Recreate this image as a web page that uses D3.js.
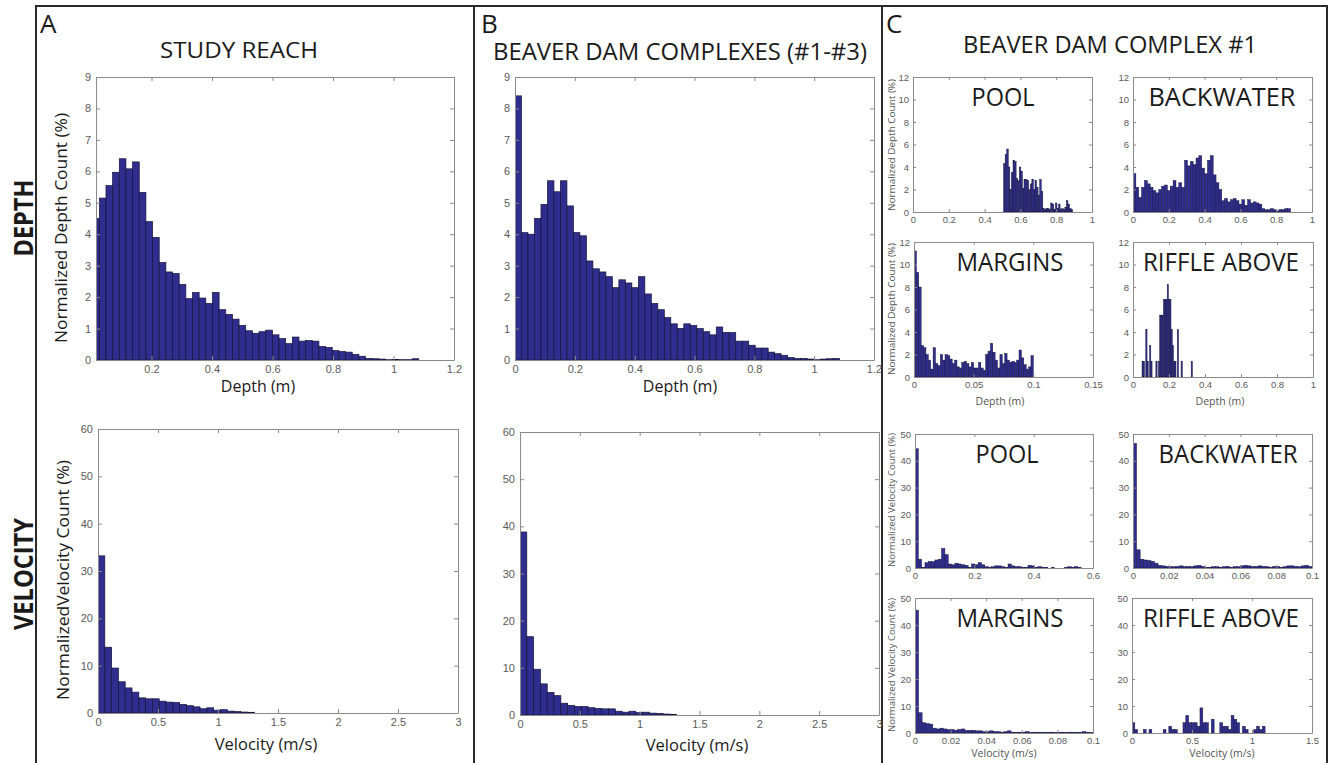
<!DOCTYPE html>
<html>
<head>
<meta charset="utf-8">
<script src="https://cdn.jsdelivr.net/npm/d3@7"></script>
<style>
  body { margin: 0; background: #fff; }
  svg { display: block; }
</style>
</head>
<body>
<svg id="fig" width="1330" height="763"></svg>
<script>
// ---- data: normalized counts (%) per histogram bin ----
// A: study reach
const depthReach = [4.5, 5.15, 5.55, 5.97, 6.4, 6.08, 6.3, 5.33, 4.4, 3.9, 3.1, 2.8, 2.75, 2.4, 1.95, 2.15, 1.97, 1.8, 2.15, 1.6,
  1.45, 1.3, 1.1, 0.93, 0.85, 0.9, 0.95, 0.8, 0.68, 0.52, 0.73, 0.6, 0.62, 0.6, 0.43, 0.4, 0.3, 0.27, 0.25, 0.18,
  0.12, 0.05, 0.04, 0.03, 0.01, 0.02, 0.01, 0.01, 0.04]
const depthReachBin = [0.0055, 0.022]   // first edge, bin width (m)
const velReach = [33.2, 13.9, 9.5, 6.6, 5.3, 4.4, 3.2, 3.0, 3.0, 2.5, 2.3, 2.2, 1.8, 1.55, 1.3, 0.9, 1.1, 0.6, 0.7, 0.4, 0.3, 0.2, 0.15]
const velReachBin = [0, 0.0567]

// B: beaver dam complexes #1-#3
const depthComplexes = [8.4, 4.05, 4.0, 4.5, 4.95, 5.7, 5.35, 5.7, 4.9, 4.05, 3.95, 3.15, 2.9, 2.8, 2.65, 2.3, 2.55, 2.45, 2.3, 2.65,
  2.1, 1.8, 1.6, 1.35, 1.15, 1.0, 1.15, 1.1, 1.0, 0.9, 0.8, 1.05, 0.88, 0.87, 0.6, 0.6, 0.47, 0.38, 0.38, 0.25,
  0.2, 0.15, 0.08, 0.05, 0.05, 0.03, 0.01, 0.03, 0.04, 0.05]
const depthComplexesBin = [0, 0.0217]
const velComplexes = [38.8, 16.6, 9.7, 6.6, 4.8, 4.1, 2.5, 2.05, 1.8, 1.8, 1.55, 1.4, 1.3, 1.3, 0.8, 0.6, 0.8, 0.5, 0.6, 0.4, 0.35, 0.2, 0.15]
const velComplexesBin = [0, 0.0569]

// C: beaver dam complex #1, by habitat
const depthPool = [4.3, 5.1, 5.6, 4.0, 2.0, 3.5, 4.6, 4.5, 3.0, 2.8, 4.0, 3.6, 2.1, 2.9, 2.9, 2.8, 2.0, 2.5, 2.9, 2.0,
  2.8, 2.2, 1.5, 2.9, 1.8, 0.3, 0.2, 0.3, 0.3, 0.2, 0.8, 0.7, 0.2, 0.8, 0.3, 0.7, 0.2, 0.3, 0.2, 0.4, 1.0, 0.7, 0.3, 0.2]
const depthPoolBin = [0.506, 0.00877]
const depthBackwater = [3.4, 2.2, 1.3, 2.2, 2.8, 2.5, 2.2, 1.9, 1.7, 2.0, 2.3, 2.4, 1.9, 2.3, 2.8, 2.2, 2.6, 2.2, 4.6, 4.1,
  4.5, 4.2, 4.8, 5.0, 3.9, 3.4, 4.6, 5.0, 3.3, 2.6, 2.0, 1.0, 1.2, 0.9, 1.1, 1.2, 1.0, 0.7, 1.1, 0.6,
  1.1, 0.8, 0.9, 0.8, 0.7, 0.3, 0.2, 0.2, 0.3, 0.2, 0.1, 0.2, 0.2, 0.3, 0.3]
const depthBackwaterBin = [0, 0.016]
const depthMargins = [11.2, 9.3, 8.0, 2.8, 2.6, 2.0, 1.5, 0.7, 2.6, 1.2, 1.0, 2.0, 1.5, 2.0, 1.9, 1.6, 1.2, 1.5, 0.9, 0.8,
  1.3, 1.4, 1.2, 0.9, 1.3, 0.8, 0.8, 1.3, 0.8, 0.6, 2.0, 2.3, 3.0, 2.2, 1.5, 0.8, 2.0, 1.2, 2.1, 1.5,
  1.3, 1.4, 1.3, 1.5, 2.4, 1.7, 1.1, 0.7, 0.9, 1.9]
const depthMarginsBin = [0, 0.002]
const depthRiffle = [1.4, 1.4, 0, 4.2, 1.4, 0, 2.8, 1.4, 0, 0, 0, 1.4, 0, 1.4, 5.5, 5.5, 5.5, 6.9, 6.9, 6.9,
  8.2, 6.9, 6.9, 4.2, 2.8, 1.4, 1.4, 0, 4.2, 0, 0, 1.4, 0, 0, 0, 0, 0, 0, 0, 1.4]
const depthRiffleBin = [0.05, 0.007]

const velPool = [44.5, 3.3, 0.3, 2.0, 2.4, 2.4, 3.0, 3.3, 7.3, 5.0, 1.5, 1.2, 1.8, 1.5, 1.2, 1.0, 0.3, 1.5, 1.2, 2.0,
  1.2, 0.5, 0.3, 0.5, 0.8, 0.8, 0.5, 0.3, 1.5, 0.8, 0.5, 0.5, 0.3, 0.3, 1.0, 0.8, 0.3, 0.5, 0.3, 0.3,
  0, 0.2, 0, 0, 0, 0.2, 0.5, 0.3, 0.5, 0.3]
const velPoolBin = [0, 0.0112]
const velBackwater = [46.5, 6.8, 3.3, 3.0, 2.8, 2.5, 1.8, 1.0, 0.8, 0.6, 0.5, 0.5, 0.6, 0.8, 0.5, 0.6, 0.5, 0.8, 1.0, 0.6,
  0.3, 0.3, 0.5, 0.5, 0.3, 0.5, 0.6, 0.3, 0.5, 0.5, 0.8, 1.0, 0.8, 0.5, 0.6, 0.8, 0.6, 0.5, 0.3, 0.6,
  0.5, 0.3, 0.5, 0.8, 0.8, 0.6, 0.5, 0.8, 1.0, 0.6]
const velBackwaterBin = [0, 0.002]
const velMargins = [45.5, 7.5, 3.8, 3.5, 3.3, 1.8, 1.5, 1.8, 1.5, 1.2, 1.3, 1.0, 1.3, 1.5, 1.0, 1.0, 1.0, 0.8, 0.8, 0.5,
  0.5, 0.8, 0.5, 0.5, 0.3, 0.5, 0.8, 0.3, 0.3, 0.3, 0.3, 0.5, 0.3, 0.3, 0.3, 0.3, 0.2, 0.3, 0.3, 0.2,
  0.3, 0.3, 0.2, 0.3, 0.3, 0.2, 0.3, 0.5, 0.3, 0.2]
const velMarginsBin = [0, 0.002]
const velRiffle = [3.8, 1.3, 0, 0, 1.3, 0, 1.3, 0, 0, 0, 0, 1.3, 0, 2.5, 1.3, 1.3, 0, 0, 3.8, 6.5,
  3.8, 3.8, 3.8, 2.5, 9.3, 3.8, 3.8, 0, 5.1, 0, 0, 3.8, 2.5, 2.5, 1.3, 6.5, 5.1, 3.8, 0, 2.5,
  1.3, 0, 0, 1.3, 2.5, 1.3, 2.5, 0]
const velRiffleBin = [0, 0.0236]

// tick values
const depthTicksA = [0.2, 0.4, 0.6, 0.8, 1, 1.2]
const depthTicksB = [0, 0.2, 0.4, 0.6, 0.8, 1, 1.2]
const depthYTicks = [0, 1, 2, 3, 4, 5, 6, 7, 8, 9]
const velTicks = [0, 0.5, 1, 1.5, 2, 2.5, 3]
const velYTicks = [0, 10, 20, 30, 40, 50, 60]
const unitTicks = [0, 0.2, 0.4, 0.6, 0.8, 1]
const marginDepthTicks = [0, 0.05, 0.1, 0.15]
const smallDepthYTicks = [0, 2, 4, 6, 8, 10, 12]
const smallVelYTicks = [0, 10, 20, 30, 40, 50]
const poolVelTicks = [0, 0.2, 0.4, 0.6]
const tinyVelTicks = [0, 0.02, 0.04, 0.06, 0.08, 0.1]
const riffleVelTicks = [0, 0.5, 1, 1.5]

// ---- drawing ----
const svg = d3.select('#fig')
const fmt = d3.format('~g')
const TEXT_FONT = '"Open Sans", "Noto Sans", sans-serif'
const TICK_FONT = '"Liberation Sans", Arial, sans-serif'
let clipCount = 0

function histPanel(p) {
  const { box, xDomain, yDomain, xTicks, yTicks, bin, values, small } = p
  const x = d3.scaleLinear().domain(xDomain).range([box.x, box.x + box.w])
  const y = d3.scaleLinear().domain(yDomain).range([box.y + box.h, box.y])
  const g = svg.append('g')
  const id = 'clip' + (clipCount++)
  g.append('clipPath').attr('id', id)
    .append('rect').attr('x', box.x).attr('y', box.y).attr('width', box.w).attr('height', box.h)

  const [edge0, step] = bin
  g.append('g').attr('clip-path', `url(#${id})`)
    .selectAll('rect')
    .data(values.map((v, i) => ({ v, i })).filter(d => d.v > 0))
    .join('rect')
    .attr('x', d => x(edge0 + d.i * step))
    .attr('width', d => x(edge0 + (d.i + 1) * step) - x(edge0 + d.i * step))
    .attr('y', d => y(d.v))
    .attr('height', d => y(0) - y(d.v))
    .attr('fill', '#2f2d8e')
    .attr('stroke', '#15143a')
    .attr('stroke-width', small ? 0.45 : 0.7)

  const tk = small ? 3 : 4
  const fs = small ? 9.5 : 11
  const axes = [
    [d3.axisBottom(x).tickValues(xTicks).tickFormat(fmt).tickPadding(small ? 4 : 5), `translate(0,${box.y + box.h})`],
    [d3.axisLeft(y).tickValues(yTicks).tickFormat(fmt).tickPadding(small ? 4 : 5), `translate(${box.x},0)`],
    [d3.axisTop(x).tickValues(xTicks).tickFormat(''), `translate(0,${box.y})`],
    [d3.axisRight(y).tickValues(yTicks).tickFormat(''), `translate(${box.x + box.w},0)`]
  ]
  axes.forEach(([ax, tr]) => {
    const a = g.append('g').attr('transform', tr)
      .call(ax.tickSize(-tk).tickSizeOuter(0))
    a.attr('font-family', TICK_FONT).attr('font-size', fs)
    a.select('.domain').attr('stroke', '#8a8a8a')
    a.selectAll('.tick line').attr('stroke', '#8a8a8a')
    a.selectAll('.tick text').attr('fill', '#5a5a5a')
  })
}

function label(txt, x, y, size, opts = {}) {
  const t = svg.append('text')
    .attr('font-family', TEXT_FONT)
    .attr('font-size', size)
    .attr('font-weight', opts.bold ? 700 : 400)
    .attr('fill', opts.fill || '#1a1a1a')
    .attr('text-anchor', opts.anchor || 'middle')
    .text(txt)
  if (opts.rotate) t.attr('transform', `translate(${x},${y}) rotate(-90)`)
  else t.attr('x', x).attr('y', y)
  if (opts.len) t.attr('textLength', opts.len).attr('lengthAdjust', 'spacingAndGlyphs')
  return t
}

// frame
const frame = svg.append('g').attr('stroke', '#2a2a2a').attr('stroke-width', 2).attr('fill', 'none')
frame.append('path').attr('d', 'M36,763 V6 H1327 V763')
frame.append('line').attr('x1', 474).attr('x2', 474).attr('y1', 6).attr('y2', 763)
frame.append('line').attr('x1', 882).attr('x2', 882).attr('y1', 6).attr('y2', 763)

// panel A
histPanel({ box: { x: 96, y: 77, w: 358, h: 283 }, xDomain: [0.0165, 1.2], yDomain: [0, 9],
  xTicks: depthTicksA, yTicks: depthYTicks, bin: depthReachBin, values: depthReach })
histPanel({ box: { x: 98, y: 429, w: 360, h: 284 }, xDomain: [0, 3], yDomain: [0, 60],
  xTicks: velTicks, yTicks: velYTicks, bin: velReachBin, values: velReach })

// panel B
histPanel({ box: { x: 515, y: 77, w: 359, h: 283 }, xDomain: [0, 1.2], yDomain: [0, 9],
  xTicks: depthTicksB, yTicks: depthYTicks, bin: depthComplexesBin, values: depthComplexes })
histPanel({ box: { x: 520, y: 432, w: 359, h: 283 }, xDomain: [0, 3], yDomain: [0, 60],
  xTicks: velTicks, yTicks: velYTicks, bin: velComplexesBin, values: velComplexes })

// panel C
histPanel({ box: { x: 913, y: 77, w: 179, h: 135 }, xDomain: [0, 1], yDomain: [0, 12], small: true,
  xTicks: unitTicks, yTicks: smallDepthYTicks, bin: depthPoolBin, values: depthPool })
histPanel({ box: { x: 1133, y: 77, w: 179, h: 135 }, xDomain: [0, 1], yDomain: [0, 12], small: true,
  xTicks: unitTicks, yTicks: smallDepthYTicks, bin: depthBackwaterBin, values: depthBackwater })
histPanel({ box: { x: 914, y: 242, w: 179, h: 135 }, xDomain: [0, 0.15], yDomain: [0, 12], small: true,
  xTicks: marginDepthTicks, yTicks: smallDepthYTicks, bin: depthMarginsBin, values: depthMargins })
histPanel({ box: { x: 1133, y: 242, w: 180, h: 135 }, xDomain: [0, 1], yDomain: [0, 12], small: true,
  xTicks: unitTicks, yTicks: smallDepthYTicks, bin: depthRiffleBin, values: depthRiffle })
histPanel({ box: { x: 915, y: 434, w: 178, h: 134 }, xDomain: [0, 0.6], yDomain: [0, 50], small: true,
  xTicks: poolVelTicks, yTicks: smallVelYTicks, bin: velPoolBin, values: velPool })
histPanel({ box: { x: 1133, y: 434, w: 179, h: 134 }, xDomain: [0, 0.1], yDomain: [0, 50], small: true,
  xTicks: tinyVelTicks, yTicks: smallVelYTicks, bin: velBackwaterBin, values: velBackwater })
histPanel({ box: { x: 915, y: 598, w: 178, h: 135 }, xDomain: [0, 0.1], yDomain: [0, 50], small: true,
  xTicks: tinyVelTicks, yTicks: smallVelYTicks, bin: velMarginsBin, values: velMargins })
histPanel({ box: { x: 1132, y: 598, w: 180, h: 135 }, xDomain: [0, 1.5], yDomain: [0, 50], small: true,
  xTicks: riffleVelTicks, yTicks: smallVelYTicks, bin: velRiffleBin, values: velRiffle })

// headings
label('A', 40, 33, 26, { anchor: 'start' })
label('B', 481, 33, 26, { anchor: 'start' })
label('C', 886, 33, 26, { anchor: 'start' })
label('STUDY REACH', 239, 58, 22, { len: 158 })
label('BEAVER DAM COMPLEXES (#1-#3)', 680, 60, 23, { len: 374 })
label('BEAVER DAM COMPLEX #1', 1110, 53, 23, { len: 294 })
label('DEPTH', 33, 218, 27, { rotate: true, bold: true, len: 77 })
label('VELOCITY', 33, 574, 27, { rotate: true, bold: true, len: 112 })

// axis titles, A and B
label('Normalized Depth Count (%)', 67, 228, 16, { rotate: true, len: 230 })
label('NormalizedVelocity Count (%)', 69, 580, 16, { rotate: true, len: 240 })
label('Depth (m)', 258, 392, 16)
label('Depth (m)', 680, 392, 16)
label('Velocity (m/s)', 266, 750, 16.5)
label('Velocity (m/s)', 697, 751, 16.5)

// panel C titles and axis titles
label('POOL', 1003, 106, 25, { len: 63 })
label('BACKWATER', 1222, 106, 25, { len: 147 })
label('MARGINS', 1010, 271, 25, { len: 107 })
label('RIFFLE ABOVE', 1221, 271, 25, { len: 156 })
label('POOL', 1007, 463, 25, { len: 63 })
label('BACKWATER', 1228, 463, 25, { len: 139 })
label('MARGINS', 1010, 627, 25, { len: 107 })
label('RIFFLE ABOVE', 1221, 627, 25, { len: 156 })
label('Normalized Depth Count (%)', 895, 145, 9, { rotate: true, fill: '#555', len: 132 })
label('Normalized Depth Count (%)', 895, 309, 9, { rotate: true, fill: '#555', len: 132 })
label('Normalized Velocity Count (%)', 895, 500, 9, { rotate: true, fill: '#555', len: 134 })
label('Normalized Velocity Count (%)', 895, 665, 9, { rotate: true, fill: '#555', len: 134 })
label('Depth (m)', 1000, 405, 10.5, { fill: '#555' })
label('Depth (m)', 1220, 405, 10.5, { fill: '#555' })
label('Velocity (m/s)', 1004, 757, 10.5, { fill: '#555' })
label('Velocity (m/s)', 1222, 757, 10.5, { fill: '#555' })
</script>
</body>
</html>
